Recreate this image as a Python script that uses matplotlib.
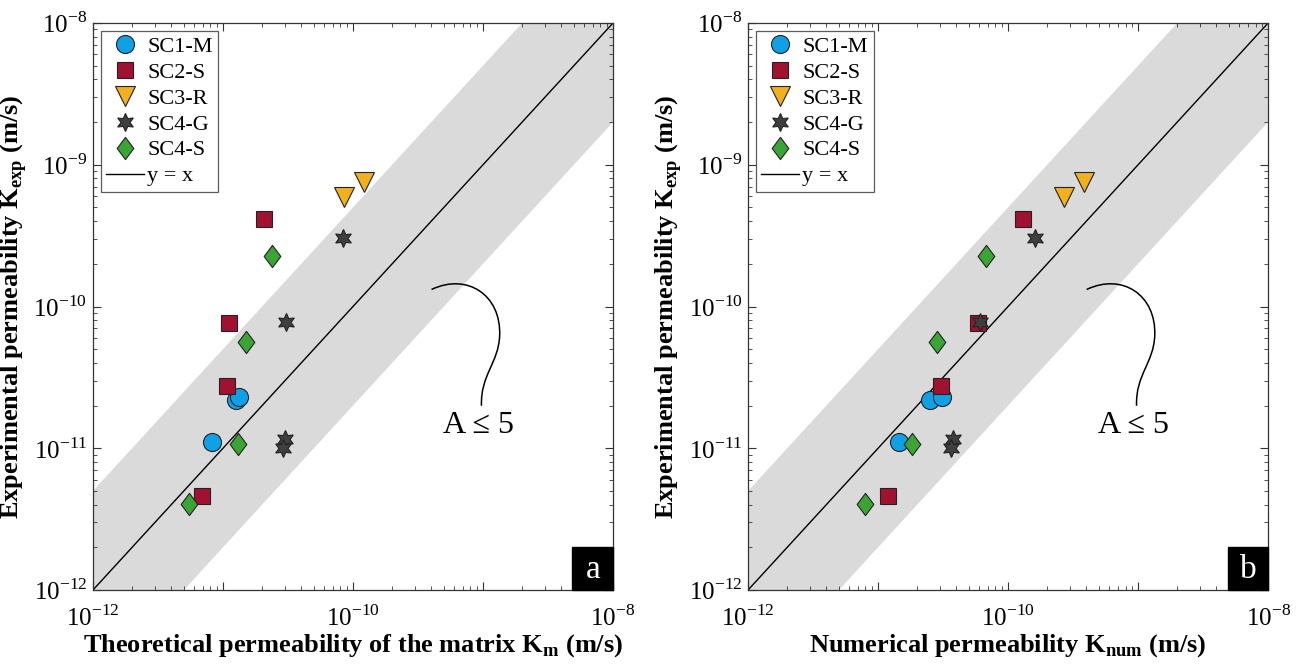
# Experimental vs theoretical / numerical permeability, two log-log panels
import numpy as np
import matplotlib.pyplot as plt
from matplotlib.path import Path
from matplotlib.patches import PathPatch, Rectangle

plt.rcParams['font.family'] = ['Liberation Serif', 'DejaVu Serif']
plt.rcParams['mathtext.fontset'] = 'custom'
plt.rcParams['mathtext.rm'] = 'Liberation Serif'
plt.rcParams['mathtext.bf'] = 'Liberation Serif:bold'

# experimental permeability (shared by both panels)
sc1m_exp = [1.11e-11, 2.19e-11, 2.30e-11]
sc2s_exp = [4.13e-10, 7.6e-11, 2.77e-11, 4.6e-12]
sc3r_exp = [5.9e-10, 7.6e-10]
sc4g_exp = [3.04e-10, 7.8e-11, 1.16e-11, 1.0e-11]
sc4s_exp = [2.27e-10, 5.6e-11, 1.08e-11, 4.03e-12]

# panel a: theoretical permeability of the matrix
sc1m_km = [8.2e-12, 1.26e-11, 1.32e-11]
sc2s_km = [2.07e-11, 1.11e-11, 1.07e-11, 6.93e-12]
sc3r_km = [8.6e-11, 1.22e-10]
sc4g_km = [8.4e-11, 3.08e-11, 2.98e-11, 2.91e-11]
sc4s_km = [2.39e-11, 1.5e-11, 1.30e-11, 5.48e-12]

# panel b: numerical permeability
sc1m_num = [1.45e-11, 2.50e-11, 3.11e-11]
sc2s_num = [1.31e-10, 5.87e-11, 3.07e-11, 1.19e-11]
sc3r_num = [2.67e-10, 3.86e-10]
sc4g_num = [1.62e-10, 6.03e-11, 3.74e-11, 3.65e-11]
sc4s_num = [6.73e-11, 2.86e-11, 1.82e-11, 7.88e-12]

labels = ['SC1-M', 'SC2-S', 'SC3-R', 'SC4-G', 'SC4-S']
colors = ['#0FA0E6', '#A0122F', '#F0B020', '#3F3F3F', '#3AA535']

diamond = Path([(0, 1), (0.75, 0), (0, -1), (-0.75, 0), (0, 1)],
               [Path.MOVETO, Path.LINETO, Path.LINETO, Path.LINETO, Path.CLOSEPOLY])
markers = ['o', 's', 'v', (6, 1, 0), diamond]
sizes = [13, 11, 15, 13, 16]

fig = plt.figure(figsize=(12.98, 6.64), dpi=100)
ax_a = fig.add_axes([0.0716, 0.1114, 0.4007, 0.8540])
ax_b = fig.add_axes([0.5763, 0.1114, 0.4007, 0.8540])


def draw_panel(ax, xs, ys, xlabel, letter):
    line = np.logspace(-12, -8, 50)
    ax.fill_between(line, line / 5, line * 5, color='#DADADA', lw=0, zorder=0)
    for x, y, lab, c, m, s in zip(xs, ys, labels, colors, markers, sizes):
        ax.plot(x, y, ls='none', marker=m, ms=s, mfc=c, mec='#222222', mew=0.8,
                label=lab, zorder=3)
    ax.plot(line, line, color='black', lw=1.0, label='y = x', zorder=2)

    ax.set_xscale('log')
    ax.set_yscale('log')
    ax.set_xlim(1e-12, 1e-8)
    ax.set_ylim(1e-12, 1e-8)
    ax.set_xticks([1e-12, 1e-11, 1e-10, 1e-9, 1e-8])
    ax.set_xticklabels([r'$10^{-12}$', '', r'$10^{-10}$', '', r'$10^{-8}$'])
    ax.set_yticks([1e-12, 1e-11, 1e-10, 1e-9, 1e-8])
    ax.set_yticklabels([r'$10^{-12}$', r'$10^{-11}$', r'$10^{-10}$', r'$10^{-9}$', r'$10^{-8}$'])
    ax.tick_params(which='both', direction='in', top=True, right=True,
                   labelsize=18, color='#333333')
    ax.tick_params(which='major', length=6)
    ax.tick_params(axis='x', which='major', pad=11)
    ax.tick_params(axis='y', which='major', pad=4)
    ax.tick_params(which='minor', length=3)
    for sp in ax.spines.values():
        sp.set_color('#333333')
        sp.set_linewidth(0.9)

    ax.set_xlabel(xlabel, fontsize=19, fontweight='bold', labelpad=1)
    ax.set_ylabel(r'Experimental permeability K$_{\mathbf{exp}}$ (m/s)',
                  fontsize=19, fontweight='bold', labelpad=3)

    leg = ax.legend(loc='upper left', fontsize=16, frameon=True, fancybox=False,
                    borderpad=0.25, labelspacing=0.24, handletextpad=0.15,
                    handlelength=1.7, borderaxespad=0.35)
    leg.get_frame().set_edgecolor('#333333')
    leg.get_frame().set_linewidth(0.9)

    # A <= 5 annotation curve
    verts = [(0.651, 0.530), (0.72, 0.56), (0.785, 0.52), (0.782, 0.449),
             (0.78, 0.40), (0.745, 0.38), (0.747, 0.325)]
    codes = [Path.MOVETO] + [Path.CURVE4] * 6
    ax.add_patch(PathPatch(Path(verts, codes), transform=ax.transAxes,
                           fill=False, lw=1.1, color='black', zorder=4))
    ax.text(0.742, 0.29, 'A ≤ 5', transform=ax.transAxes, fontsize=23,
            ha='center', va='center')

    # panel letter box
    ax.add_patch(Rectangle((0.922, 0.0), 0.078, 0.076, transform=ax.transAxes,
                           color='black', zorder=5, clip_on=False))
    ax.text(0.961, 0.036, letter, transform=ax.transAxes, color='white',
            fontsize=24, ha='center', va='center', zorder=6)


draw_panel(ax_a,
           [sc1m_km, sc2s_km, sc3r_km, sc4g_km, sc4s_km],
           [sc1m_exp, sc2s_exp, sc3r_exp, sc4g_exp, sc4s_exp],
           r'Theoretical permeability of the matrix K$_{\mathbf{m}}$ (m/s)', 'a')
draw_panel(ax_b,
           [sc1m_num, sc2s_num, sc3r_num, sc4g_num, sc4s_num],
           [sc1m_exp, sc2s_exp, sc3r_exp, sc4g_exp, sc4s_exp],
           r'Numerical permeability K$_{\mathbf{num}}$ (m/s)', 'b')

fig.savefig('out.png', dpi=100)
